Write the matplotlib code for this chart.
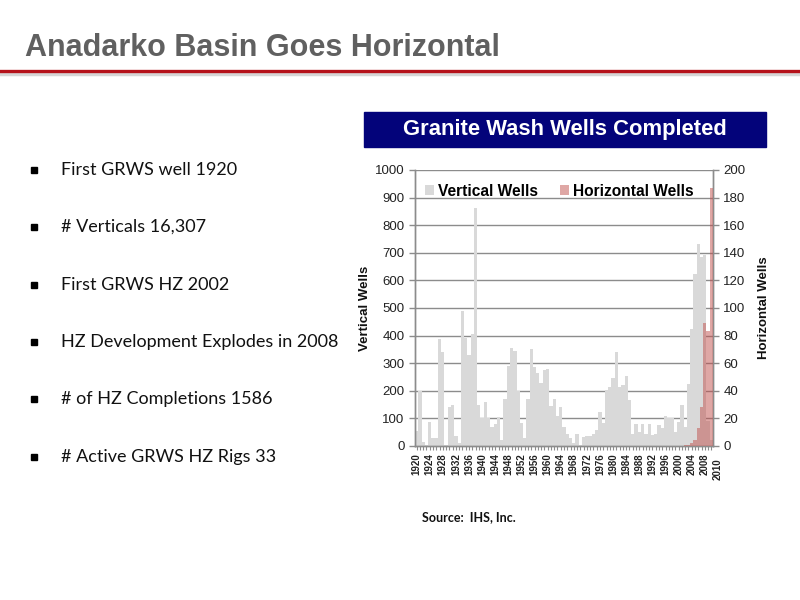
import matplotlib
matplotlib.use("Agg")
import matplotlib.pyplot as plt
from matplotlib.patches import Rectangle, Patch
from matplotlib.lines import Line2D
import matplotlib.transforms as mtransforms

# ---------------- data ----------------
years = list(range(1920, 2011))
vertical_wells = [
    55, 200, 15, 3, 88, 30, 30, 386, 340, 5,          # 1920-1929
    140, 150, 36, 10, 490, 390, 330, 406, 862, 148,   # 1930-1939
    100, 160, 100, 70, 80, 105, 20, 170, 290, 355,    # 1940-1949
    345, 200, 85, 30, 170, 350, 285, 265, 230, 275,   # 1950-1959
    280, 145, 170, 110, 140, 70, 45, 30, 10, 45,      # 1960-1969
    3, 34, 36, 36, 45, 58, 125, 85, 203, 215,         # 1970-1979
    245, 340, 212, 220, 255, 165, 45, 80, 50, 80,     # 1980-1989
    45, 80, 40, 42, 75, 65, 110, 100, 100, 52,        # 1990-1999
    88, 150, 70, 225, 423, 625, 732, 684, 692, 90,    # 2000-2009
    20,                                               # 2010
]
horizontal_years = [2002, 2003, 2004, 2005, 2006, 2007, 2008, 2009, 2010]
horizontal_wells = [1, 1, 2, 4, 13, 28, 89, 83, 187]

xtick_labels = [str(y) for y in range(1920, 2009, 4)]
last_label = "2010"
left_ticks = list(range(0, 1001, 100))
right_ticks = list(range(0, 201, 20))

title = "Anadarko Basin Goes Horizontal"
chart_title = "Granite Wash Wells Completed"
bullets = [
    "First GRWS well 1920",
    "# Verticals 16,307",
    "First GRWS HZ 2002",
    "HZ Development Explodes in 2008",
    "# of HZ Completions 1586",
    "# Active GRWS HZ Rigs 33",
]
source = "Source:  IHS, Inc."

# ---------------- figure ----------------
W, H = 800, 600
fig = plt.figure(figsize=(8, 6), dpi=100)
fig.patch.set_facecolor("white")

def fx(px):
    return px / W

def fy(py):
    return 1 - py / H

# slide title
fig.text(fx(25), fy(56), title, family=["Liberation Sans Narrow", "Liberation Sans"],
         weight="bold", fontsize=22, color="#606060", ha="left", va="baseline")
# red rule with shadow
fig.add_artist(Line2D([0, 1], [fy(73.5), fy(73.5)], color="#d6d6d6", lw=2.5, transform=fig.transFigure))
fig.add_artist(Line2D([0, 1], [fy(70.5), fy(70.5)], color="#b5121b", lw=2.4, transform=fig.transFigure))

# bullets
bullet_y = [170, 227, 285, 342, 399, 457]
for by, txt in zip(bullet_y, bullets):
    fig.add_artist(Rectangle((fx(31), fy(by + 3)), fx(6), 6 / H, color="black",
                             transform=fig.transFigure))
    fig.text(fx(61), fy(by), txt, family=["Lato", "DejaVu Sans"], fontsize=13,
             color="#111111", ha="left", va="center")

# chart header box
fig.add_artist(Rectangle((fx(364), fy(147)), fx(766 - 364), 35 / H, color="#03037a",
                         transform=fig.transFigure))
fig.text(fx(565), fy(130), chart_title, family=["Liberation Sans", "DejaVu Sans"],
         weight="bold", fontsize=15.8, color="white", ha="center", va="center")

# axes
ax = fig.add_axes([fx(415), fy(446), fx(713 - 415), (446 - 170) / H])
ax2 = ax.twinx()

grey = "#d9d9d9"
red = "#c0504d"
ax.bar(years, vertical_wells, width=1.0, color=grey, linewidth=0, zorder=2)
ax2.bar(horizontal_years, horizontal_wells, width=1.0, color=red, alpha=0.5, linewidth=0, zorder=3)

ax.set_xlim(1919.5, 2010.5)
ax.set_ylim(0, 1000)
ax2.set_ylim(0, 200)
ax.set_yticks(left_ticks)
ax2.set_yticks(right_ticks)

ax.set_axisbelow(True)
ax.yaxis.grid(True, color="#8c8c8c", lw=1.0)
ax.xaxis.grid(False)

spine_c = "#8c8c8c"
for a in (ax, ax2):
    a.spines["top"].set_visible(False)
    for s in ("left", "right", "bottom"):
        a.spines[s].set_color(spine_c)
        a.spines[s].set_linewidth(1.0)
    a.tick_params(axis="y", colors=spine_c, labelcolor="#222222", length=4, width=1,
                  labelsize=9.5)

tick_font = ["Liberation Sans", "DejaVu Sans"]
for lab in ax.get_yticklabels() + ax2.get_yticklabels():
    lab.set_family(tick_font)

label_pos = [int(s) for s in xtick_labels]
ax.set_xticks(label_pos)
ax.set_xticklabels(xtick_labels, rotation=90, fontsize=7, weight="bold",
                   family=tick_font, color="#222222")
ax.set_xticks(years, minor=True)
ax.tick_params(axis="x", which="both", colors=spine_c, labelcolor="#222222",
               length=3, width=0.8, pad=2)
ax.text(2010.5, 0, last_label, rotation=90, fontsize=7, weight="bold", family=tick_font,
        color="#222222", ha="center", va="top",
        transform=mtransforms.blended_transform_factory(
            mtransforms.offset_copy(ax.transData, fig=fig, x=5, y=0, units="dots"),
            mtransforms.offset_copy(ax.transAxes, fig=fig, x=0, y=-12, units="dots")))

ax.set_ylabel("Vertical Wells", family=tick_font, weight="bold", fontsize=9.5,
              color="#111111", labelpad=3)
ax2.set_ylabel("Horizontal Wells", family=tick_font, weight="bold", fontsize=9.5,
               color="#111111", labelpad=9)

handles = [Patch(facecolor=grey, edgecolor="none"),
           Patch(facecolor=red, alpha=0.5, edgecolor="none")]
fig.legend(handles, ["Vertical Wells", "Horizontal Wells"], loc="center left",
           bbox_to_anchor=(fx(425), fy(191)), ncol=2, frameon=False,
           prop={"family": tick_font, "weight": "bold", "size": 11.2},
           handlelength=0.55, handleheight=0.55, handletextpad=0.3,
           columnspacing=1.4, borderpad=0, borderaxespad=0)

fig.text(fx(422), fy(517), source, family=["Lato", "DejaVu Sans"], weight="bold",
         fontsize=9, color="#111111", ha="left", va="center")

fig.savefig("out.png", dpi=100, facecolor="white")
